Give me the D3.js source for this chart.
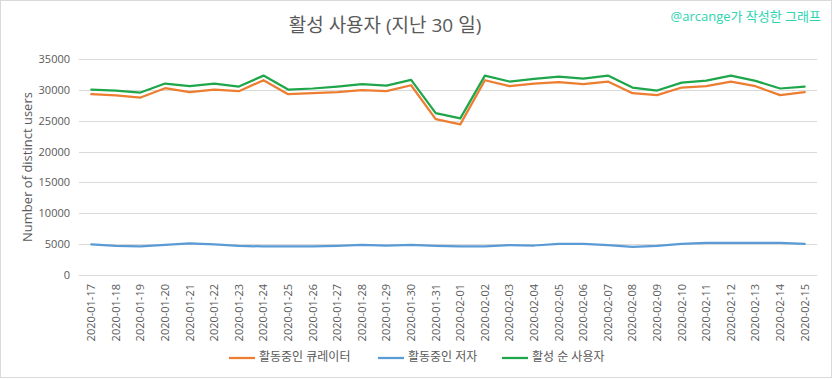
<!DOCTYPE html>
<html>
<head>
<meta charset="utf-8">
<script src="https://cdn.jsdelivr.net/npm/d3@7"></script>
<style>
  html, body { margin: 0; padding: 0; background: #fff; }
  svg { display: block; }
  text { font-family: "Open Sans", "Noto Sans CJK KR", sans-serif; }
</style>
</head>
<body>
<svg id="chart" width="833" height="379"></svg>
<script>
const dates = ["2020-01-17","2020-01-18","2020-01-19","2020-01-20","2020-01-21","2020-01-22","2020-01-23","2020-01-24","2020-01-25","2020-01-26","2020-01-27","2020-01-28","2020-01-29","2020-01-30","2020-01-31","2020-02-01","2020-02-02","2020-02-03","2020-02-04","2020-02-05","2020-02-06","2020-02-07","2020-02-08","2020-02-09","2020-02-10","2020-02-11","2020-02-12","2020-02-13","2020-02-14","2020-02-15"];
const curators = [29300,29090,28760,30270,29620,30050,29780,31560,29300,29460,29620,29950,29780,30750,25270,24400,31560,30590,31020,31240,30910,31350,29460,29140,30380,30590,31350,30590,29140,29620];
const authors = [4950,4730,4620,4890,5110,4950,4730,4620,4620,4620,4730,4890,4780,4890,4730,4620,4620,4840,4780,5050,5050,4840,4570,4730,5050,5220,5220,5220,5220,5050];
const uniqueUsers = [30050,29890,29570,31020,30590,31020,30540,32310,30050,30220,30540,30910,30700,31610,26230,25370,32310,31350,31780,32150,31830,32310,30380,29890,31180,31510,32310,31450,30220,30540];
const yTicks = [0,5000,10000,15000,20000,25000,30000,35000];
const seriesNames = ["활동중인 큐레이터","활동중인 저자","활성 순 사용자"];
const titleText = "활성 사용자 (지난 30 일)";
const creditText = "@arcange가 작성한 그래프";
const yTitle = "Number of distinct users";

const colors = ["#ED7D31","#5B9BD5","#1FA64A"];
const series = [curators, authors, uniqueUsers];

const svg = d3.select("#chart");
const plotL = 79, plotR = 817, plotT = 59, plotB = 275;

svg.append("rect").attr("x",0.5).attr("y",0.5).attr("width",831).attr("height",377)
  .attr("fill","#fff").attr("stroke","#d9d9d9");

const x = d3.scaleBand().domain(dates).range([plotL, plotR]);
const y = d3.scaleLinear().domain([0,35000]).range([plotB, plotT]);

// gridlines
svg.append("g").selectAll("line").data(yTicks).join("line")
  .attr("x1",plotL).attr("x2",plotR)
  .attr("y1",d=>Math.round(y(d))+0.5).attr("y2",d=>Math.round(y(d))+0.5)
  .attr("stroke","#d9d9d9").attr("stroke-width",1);

// y axis labels
const yAxis = d3.axisLeft(y).tickValues(yTicks).tickSize(0).tickPadding(9).tickFormat(d3.format("d"));
const gy = svg.append("g").attr("transform",`translate(${plotL},0)`).call(yAxis);
gy.select(".domain").remove();
gy.selectAll("text").attr("fill","#595959").style("font-size","11px");

// x axis labels
const xAxis = d3.axisBottom(x).tickSize(0).tickPadding(0);
const gx = svg.append("g").attr("transform",`translate(0,${plotB})`).call(xAxis);
gx.select(".domain").remove();
gx.selectAll("text")
  .attr("fill","#595959").style("font-size","11px")
  .attr("transform","rotate(-90)")
  .attr("text-anchor","end")
  .attr("x",-9).attr("y",0).attr("dy","0.35em");

// lines
const line = d3.line().x((d,i)=>x(dates[i]) + x.bandwidth()/2).y(d=>y(d));
series.forEach((s,k)=>{
  svg.append("path").datum(s).attr("d",line)
    .attr("fill","none").attr("stroke",colors[k]).attr("stroke-width",2.25)
    .attr("stroke-linejoin","round").attr("stroke-linecap","round");
});

// title
svg.append("text").attr("x",385).attr("y",27).attr("text-anchor","middle")
  .attr("dominant-baseline","middle")
  .attr("fill","#595959").style("font-size","19px").text(titleText);

// credit
svg.append("text").attr("x",821).attr("y",18).attr("text-anchor","end")
  .attr("dominant-baseline","middle")
  .attr("fill","#2DD4B0").style("font-size","13px").text(creditText);

// y title
svg.append("text").attr("transform","translate(29,167) rotate(-90)")
  .attr("text-anchor","middle").attr("dominant-baseline","middle")
  .attr("fill","#595959").style("font-size","13px").text(yTitle);

// legend
const legendX = [229, 378, 502];
const lg = svg.append("g");
seriesNames.forEach((n,k)=>{
  lg.append("line").attr("x1",legendX[k]).attr("x2",legendX[k]+26)
    .attr("y1",358).attr("y2",358).attr("stroke",colors[k]).attr("stroke-width",2.25);
  lg.append("text").attr("x",legendX[k]+30).attr("y",358)
    .attr("dominant-baseline","middle")
    .attr("fill","#595959").style("font-size","12px").text(n);
});
</script>
</body>
</html>
